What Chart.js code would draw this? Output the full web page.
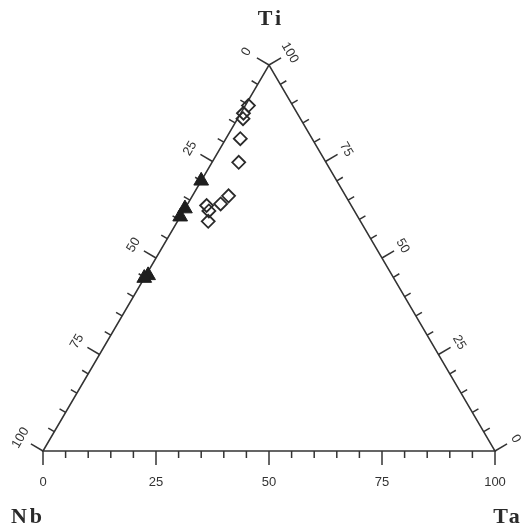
<!DOCTYPE html>
<html>
<head>
<meta charset="utf-8">
<script src="https://cdn.jsdelivr.net/npm/chart.js@4.4.1/dist/chart.umd.min.js"></script>
<style>
  html, body { margin: 0; padding: 0; background: #fff; }
  #wrap { width: 531px; height: 530px; }
</style>
</head>
<body>
<div id="wrap"><canvas id="ternary" width="531" height="530"></canvas></div>
<script>
// Ti / Ta contents (%), Nb is the remainder
const triTi = [70, 62.8, 60.7, 45.5, 44.8];
const triTa = [0, 0, 0, 0.5, 0];
const diaTi = [89.5, 87.5, 86.1, 80.9, 74.8, 66.1, 64.0, 63.6, 62.2, 59.5];
const diaTa = [0.7, 0.6, 1.2, 3.2, 5.9, 8.0, 7.3, 4.4, 5.6, 6.8];

const axisTicks = [0, 25, 50, 75, 100];
const minorStep = 5;
const cornerLabels = ['Ti', 'Nb', 'Ta'];

const INK = '#333';

// ternary -> cartesian: x runs along the Nb-Ta base, y is Ti
function toXY(ti, ta) {
  return { x: ta + ti / 2, y: ti };
}

const triPts = triTi.map((t, i) => toXY(t, triTa[i]));
const diaPts = diaTi.map((t, i) => toXY(t, diaTa[i]));

// frame, ticks and labels of the three axes
const ternaryFrame = {
  id: 'ternaryFrame',
  beforeDatasetsDraw(chart) {
    const { ctx, scales: { x: xs, y: ys } } = chart;
    const px = p => [xs.getPixelForValue(p.x), ys.getPixelForValue(p.y)];

    const vTi = px(toXY(100, 0));
    const vNb = px(toXY(0, 0));
    const vTa = px(toXY(0, 100));

    ctx.save();
    ctx.strokeStyle = INK;
    ctx.lineWidth = 1.5;
    ctx.beginPath();
    ctx.moveTo(vNb[0], vNb[1]);
    ctx.lineTo(vTi[0], vTi[1]);
    ctx.lineTo(vTa[0], vTa[1]);
    ctx.closePath();
    ctx.stroke();

    // each axis: where value v sits, edge direction, label offset
    const axes = [
      { at: v => px(toXY(0, v)), from: vTa, to: vNb, dist: 31, rot: false },        // Ta along base
      { at: v => px(toXY(100 - v, 0)), from: vNb, to: vTi, dist: 26, rot: true },   // Nb on left edge
      { at: v => px(toXY(v, 100 - v)), from: vTi, to: vTa, dist: 24, rot: true }    // Ti on right edge
    ];

    ctx.fillStyle = INK;
    ctx.font = '13px "Liberation Sans", Arial, sans-serif';
    ctx.textAlign = 'center';
    ctx.textBaseline = 'middle';

    axes.forEach(a => {
      const dx = a.to[0] - a.from[0], dy = a.to[1] - a.from[1];
      const len = Math.hypot(dx, dy);
      const nx = dy / len, ny = -dx / len;
      const ang = Math.atan2(dy, dx);

      for (let v = 0; v <= 100; v += minorStep) {
        const [x0, y0] = a.at(v);
        const major = axisTicks.includes(v);
        const tl = major ? 14 : 7;
        ctx.beginPath();
        ctx.moveTo(x0, y0);
        ctx.lineTo(x0 + nx * tl, y0 + ny * tl);
        ctx.stroke();
      }

      axisTicks.forEach(v => {
        const [x0, y0] = a.at(v);
        ctx.save();
        ctx.translate(x0 + nx * a.dist, y0 + ny * a.dist);
        if (a.rot) ctx.rotate(ang);
        ctx.fillText(String(v), 0, 0);
        ctx.restore();
      });
    });

    // element names at the corners
    ctx.font = 'bold 22px "Liberation Serif", "Times New Roman", serif';
    ctx.letterSpacing = '3px';
    ctx.fillStyle = '#2a2a2a';
    ctx.fillText(cornerLabels[0], vTi[0] + 2, 19);
    ctx.fillText(cornerLabels[1], 28, 517);
    ctx.fillText(cornerLabels[2], 508, 517);
    ctx.restore();
  }
};

new Chart(document.getElementById('ternary'), {
  type: 'scatter',
  data: {
    datasets: [
      {
        label: 'triangles',
        data: triPts,
        pointStyle: 'triangle',
        pointRadius: 8.5,
        backgroundColor: '#1e1e1e',
        borderColor: '#1e1e1e',
        borderWidth: 1,
        clip: false
      },
      {
        label: 'diamonds',
        data: diaPts,
        pointStyle: 'rectRot',
        pointRadius: 6.5,
        backgroundColor: 'rgba(0,0,0,0)',
        borderColor: '#2a2a2a',
        borderWidth: 1.8,
        clip: false
      }
    ]
  },
  options: {
    responsive: false,
    animation: false,
    layout: { padding: { left: 43, right: 36, top: 65, bottom: 79 } },
    scales: {
      x: { type: 'linear', min: 0, max: 100, display: false },
      y: { type: 'linear', min: 0, max: 100, display: false }
    },
    plugins: {
      legend: { display: false },
      tooltip: { enabled: false }
    }
  },
  plugins: [ternaryFrame]
});
</script>
</body>
</html>
